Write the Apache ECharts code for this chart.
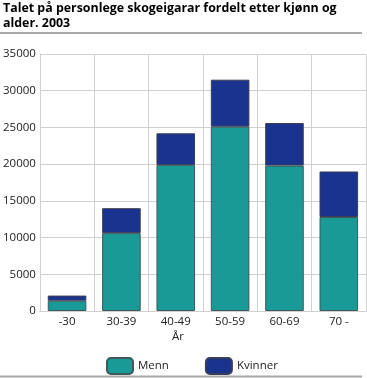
<!DOCTYPE html>
<html><head><meta charset="utf-8">
<script src="https://cdn.jsdelivr.net/npm/echarts@6/dist/echarts.min.js"></script>
<style>html,body{margin:0;padding:0;background:#fff}#c{width:367px;height:378px}</style>
</head><body><div id="c"></div>
<script>
var categories = ['-30', '30-39', '40-49', '50-59', '60-69', '70 -'];
var menn = [1400, 10600, 19900, 25100, 19800, 12800];
var kvinner = [700, 3400, 4300, 6400, 5800, 6200];
var yTicks = [0, 5000, 10000, 15000, 20000, 25000, 30000, 35000];
var titleText = 'Talet på personlege skogeigarar fordelt etter kjønn og\nalder. 2003';
var axisName = 'År';

var FONT = 'Open Sans';
var chart = echarts.init(document.getElementById('c'), null, {renderer: 'canvas'});
chart.setOption({
  animation: false,
  textStyle: {fontFamily: FONT},
  title: {
    text: titleText, left: 1, top: 0, padding: [1, 2],
    textStyle: {fontFamily: FONT, fontWeight: 'bold', fontSize: 12.4, color: '#000', lineHeight: 15}
  },
  graphic: [
    {type: 'line', shape: {x1: 0, y1: 33, x2: 362, y2: 33}, style: {stroke: '#a8a8a8', lineWidth: 2}},
    {type: 'line', shape: {x1: 0, y1: 376.5, x2: 362, y2: 376.5}, style: {stroke: '#a8a8a8', lineWidth: 2}},
    {type: 'text', left: 172, top: 331, style: {text: axisName, font: '11.5px "' + FONT + '"', fill: '#222'}}
  ],
  legend: {
    left: 101, top: 352, itemWidth: 26, itemHeight: 16, itemGap: 36,
    textStyle: {fontFamily: FONT, fontSize: 11.5, color: '#222'},
    data: ['Menn', 'Kvinner']
  },
  grid: {left: 39, right: 1, top: 54, bottom: 67, containLabel: false},
  xAxis: {
    type: 'category', data: categories,
    axisTick: {show: false},
    axisLine: {lineStyle: {color: '#d0d0d0', width: 1}},
    axisLabel: {color: '#222', fontSize: 11.5, margin: 5, fontFamily: FONT},
    splitLine: {show: true, lineStyle: {color: '#d0d0d0', width: 1}}
  },
  yAxis: {
    type: 'value', min: yTicks[0], max: yTicks[yTicks.length - 1], interval: yTicks[1] - yTicks[0],
    axisLine: {show: true, lineStyle: {color: '#d0d0d0'}},
    axisTick: {show: false},
    axisLabel: {color: '#222', fontSize: 11.5, margin: 4, fontFamily: FONT, formatter: function (v) { return String(v); }},
    splitLine: {lineStyle: {color: '#d0d0d0', width: 1}}
  },
  series: [
    {name: 'Menn', type: 'bar', stack: 'a', data: menn, barWidth: '71%',
     itemStyle: {color: '#1a9a97', borderColor: '#3d5a5a', borderWidth: 1}},
    {name: 'Kvinner', type: 'bar', stack: 'a', data: kvinner, barWidth: '71%',
     itemStyle: {color: '#1a338f', borderColor: '#3a3f55', borderWidth: 1}}
  ]
});
</script></body></html>
